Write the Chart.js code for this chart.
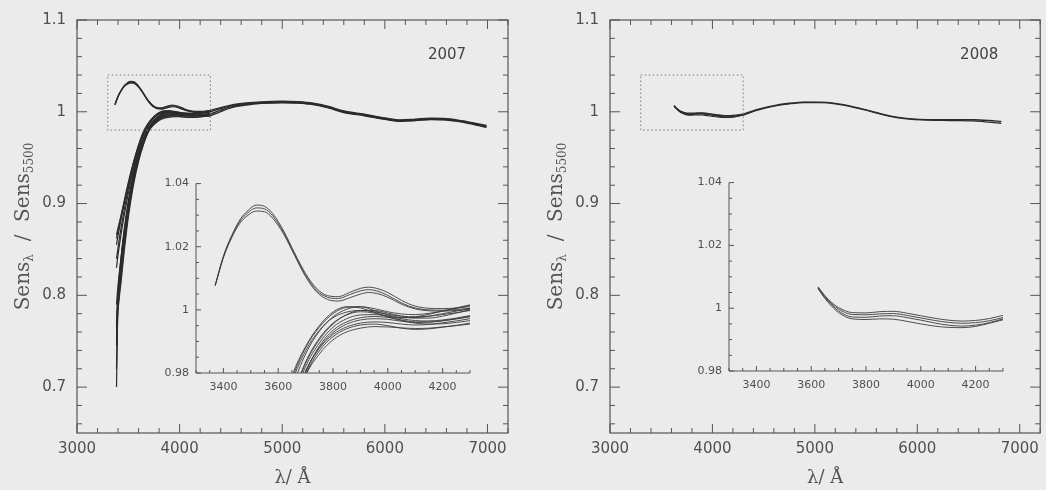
<!DOCTYPE html>
<html>
<head>
<meta charset="utf-8">
<script src="https://cdn.jsdelivr.net/npm/chart.js@4.4.1/dist/chart.umd.min.js"></script>
<style>
  body { margin: 0; background: #ebebeb; }
  #wrap { position: relative; width: 1046px; height: 490px; background: #ebebeb; overflow: hidden; }
  canvas { position: absolute; }
</style>
</head>
<body>
<div id="wrap">
  <canvas id="main07" width="523" height="490" style="left:0px;top:0px"></canvas>
  <canvas id="main08" width="523" height="490" style="left:523px;top:0px"></canvas>
  <canvas id="inset07" width="345" height="230" style="left:141px;top:170px"></canvas>
  <canvas id="inset08" width="345" height="230" style="left:674px;top:169px"></canvas>
</div>
<script>
// tick labels
var xTicksMain = [3000, 4000, 5000, 6000, 7000];
var yTicksMain = [0.7, 0.8, 0.9, 1, 1.1];
var xTicksInset = [3400, 3600, 3800, 4000, 4200];
var yTicksInset = [0.98, 1, 1.02, 1.04];

// 2007 - curves with the blue bump
var waveA = [3370, 3400, 3430, 3460, 3490, 3520, 3550, 3580, 3620, 3660, 3700, 3740, 3780, 3820, 3860, 3900, 3930, 3960, 4000, 4050, 4100, 4150, 4200, 4250, 4300];
var a1 = [1.0078, 1.0170, 1.0235, 1.0285, 1.0315, 1.0332, 1.0328, 1.0305, 1.0250, 1.0180, 1.0115, 1.0068, 1.0045, 1.0042, 1.0055, 1.0068, 1.0072, 1.0068, 1.0055, 1.0030, 1.0012, 1.0005, 1.0004, 1.0006, 1.0010];
var a2 = [1.0078, 1.0168, 1.0232, 1.0280, 1.0308, 1.0323, 1.0320, 1.0298, 1.0245, 1.0176, 1.0110, 1.0062, 1.0040, 1.0036, 1.0048, 1.0060, 1.0064, 1.0060, 1.0046, 1.0022, 1.0006, 1.0000, 0.9999, 1.0001, 1.0005];
var a3 = [1.0076, 1.0165, 1.0228, 1.0274, 1.0300, 1.0313, 1.0311, 1.0290, 1.0240, 1.0172, 1.0105, 1.0057, 1.0033, 1.0028, 1.0038, 1.0050, 1.0055, 1.0052, 1.0040, 1.0018, 1.0003, 0.9997, 0.9996, 0.9998, 1.0002];

// 2007 - curves that drop in the UV
var waveB = [3385, 3395, 3410, 3430, 3460, 3500, 3550, 3600, 3650, 3700, 3750, 3800, 3850, 3900, 3950, 4000, 4050, 4100, 4150, 4200, 4250, 4300];
var b1 = [0.700, 0.770, 0.795, 0.815, 0.848, 0.885, 0.920, 0.946, 0.965, 0.9790, 0.9860, 0.9905, 0.9930, 0.9942, 0.9947, 0.9946, 0.9943, 0.9941, 0.9942, 0.9946, 0.9950, 0.9955];
var b2 = [0.745, 0.785, 0.810, 0.832, 0.862, 0.895, 0.927, 0.951, 0.968, 0.9805, 0.9880, 0.9928, 0.9955, 0.9968, 0.9972, 0.9970, 0.9964, 0.9960, 0.9961, 0.9965, 0.9971, 0.9978];
var b3 = [0.750, 0.782, 0.805, 0.828, 0.858, 0.892, 0.925, 0.950, 0.967, 0.9795, 0.9870, 0.9915, 0.9940, 0.9952, 0.9955, 0.9950, 0.9942, 0.9938, 0.9940, 0.9945, 0.9951, 0.9958];
var b4 = [0.765, 0.792, 0.815, 0.838, 0.868, 0.900, 0.931, 0.954, 0.970, 0.9820, 0.9895, 0.9945, 0.9972, 0.9984, 0.9985, 0.9980, 0.9972, 0.9966, 0.9965, 0.9968, 0.9974, 0.9982];
var b5 = [0.770, 0.795, 0.818, 0.842, 0.872, 0.903, 0.933, 0.955, 0.971, 0.9830, 0.9905, 0.9955, 0.9985, 0.9998, 0.9998, 0.9990, 0.9980, 0.9974, 0.9974, 0.9980, 0.9990, 1.0000];
var b6 = [0.830, 0.840, 0.852, 0.867, 0.887, 0.911, 0.937, 0.957, 0.972, 0.9835, 0.9910, 0.9958, 0.9984, 0.9994, 0.9990, 0.9978, 0.9966, 0.9958, 0.9955, 0.9956, 0.9960, 0.9966];
var b7 = [0.840, 0.848, 0.860, 0.874, 0.893, 0.916, 0.940, 0.960, 0.975, 0.9860, 0.9932, 0.9978, 1.0002, 1.0010, 1.0004, 0.9994, 0.9987, 0.9985, 0.9989, 0.9996, 1.0005, 1.0014];
var b8 = [0.855, 0.862, 0.871, 0.883, 0.900, 0.921, 0.944, 0.963, 0.978, 0.9880, 0.9945, 0.9988, 1.0008, 1.0010, 0.9998, 0.9984, 0.9976, 0.9975, 0.9980, 0.9988, 0.9996, 1.0004];
var b9 = [0.862, 0.868, 0.876, 0.887, 0.903, 0.923, 0.945, 0.964, 0.979, 0.9884, 0.9950, 0.9993, 1.0010, 1.0006, 0.9992, 0.9980, 0.9975, 0.9978, 0.9986, 0.9996, 1.0006, 1.0016];
var b10 = [0.866, 0.871, 0.878, 0.887, 0.901, 0.920, 0.942, 0.962, 0.977, 0.9870, 0.9935, 0.9975, 0.9993, 0.9998, 0.9994, 0.9986, 0.9980, 0.9978, 0.9980, 0.9985, 0.9991, 0.9998];
var b11 = [0.790, 0.805, 0.822, 0.842, 0.869, 0.899, 0.929, 0.952, 0.968, 0.9805, 0.9878, 0.9922, 0.9946, 0.9958, 0.9962, 0.9960, 0.9955, 0.9952, 0.9954, 0.9959, 0.9965, 0.9972];
var b12 = [0.720, 0.775, 0.800, 0.822, 0.853, 0.889, 0.923, 0.948, 0.966, 0.9800, 0.9885, 0.9935, 0.9962, 0.9975, 0.9979, 0.9976, 0.9968, 0.9962, 0.9962, 0.9966, 0.9972, 0.9980];

// 2007 - red part, where all curves run together
var tailWave07 = [4300, 4400, 4500, 4650, 4800, 5000, 5150, 5300, 5450, 5600, 5800, 6000, 6150, 6300, 6450, 6600, 6800, 6990];
var t1 = [1.0016, 1.0045, 1.0072, 1.0095, 1.0108, 1.0114, 1.0109, 1.0093, 1.0058, 1.0008, 0.9973, 0.9934, 0.9911, 0.9920, 0.9929, 0.9925, 0.9893, 0.9850];
var t2 = [1.0000, 1.0035, 1.0065, 1.0089, 1.0103, 1.0109, 1.0104, 1.0088, 1.0052, 1.0002, 0.9967, 0.9928, 0.9905, 0.9914, 0.9923, 0.9919, 0.9887, 0.9842];
var t3 = [0.9975, 1.0018, 1.0054, 1.0082, 1.0097, 1.0104, 1.0099, 1.0083, 1.0047, 0.9997, 0.9962, 0.9923, 0.9900, 0.9909, 0.9918, 0.9914, 0.9882, 0.9835];
var t4 = [0.9955, 1.0002, 1.0043, 1.0074, 1.0091, 1.0099, 1.0094, 1.0078, 1.0042, 0.9992, 0.9957, 0.9918, 0.9896, 0.9905, 0.9914, 0.9910, 0.9878, 0.9830];

// 2008
var waveC = [3625, 3650, 3675, 3700, 3750, 3800, 3850, 3900, 3950, 4000, 4050, 4100, 4150, 4200, 4250, 4300];
var c1 = [1.0068, 1.0040, 1.0018, 1.0002, 0.9986, 0.9985, 0.9989, 0.9990, 0.9984, 0.9976, 0.9968, 0.9962, 0.9959, 0.9961, 0.9967, 0.9977];
var c2 = [1.0066, 1.0037, 1.0014, 0.9997, 0.9980, 0.9979, 0.9982, 0.9983, 0.9977, 0.9969, 0.9961, 0.9955, 0.9952, 0.9954, 0.9960, 0.9970];
var c3 = [1.0064, 1.0034, 1.0010, 0.9991, 0.9972, 0.9971, 0.9975, 0.9976, 0.9970, 0.9962, 0.9953, 0.9946, 0.9943, 0.9946, 0.9954, 0.9966];
var c4 = [1.0062, 1.0031, 1.0006, 0.9986, 0.9966, 0.9964, 0.9966, 0.9965, 0.9958, 0.9950, 0.9943, 0.9939, 0.9938, 0.9942, 0.9952, 0.9963];
var tailWave08 = [4300, 4450, 4600, 4750, 4900, 5050, 5200, 5350, 5500, 5650, 5800, 5950, 6100, 6250, 6400, 6550, 6700, 6820];
var r1 = [0.9975, 1.0028, 1.0068, 1.0093, 1.0106, 1.0105, 1.0092, 1.0062, 1.0022, 0.9977, 0.9942, 0.9922, 0.9914, 0.9913, 0.9914, 0.9913, 0.9905, 0.9895];
var r2 = [0.9962, 1.0020, 1.0061, 1.0087, 1.0101, 1.0100, 1.0087, 1.0057, 1.0017, 0.9972, 0.9937, 0.9917, 0.9909, 0.9906, 0.9904, 0.9900, 0.9887, 0.9875];

var groupA = [a1, a2, a3];
var groupB = [b1, b2, b3, b4, b5, b6, b7, b8, b9, b10, b11, b12];
var tails07 = [t1, t2, t3, t4];
var group08 = [c1, c2, c3, c4];
var tails08 = [r1, r2];

var tickFont = { family: 'DejaVu Sans', size: 15 };
var insetFont = { family: 'DejaVu Sans', size: 11 };
var inkColor = '#505050';

function pts(xs, ys) {
  return xs.map(function (x, i) { return { x: x, y: ys[i] }; });
}

function lines(xs, list, color, width) {
  return list.map(function (ys) {
    return { data: pts(xs, ys), borderColor: color, borderWidth: width, pointRadius: 0, fill: false, cubicInterpolationMode: 'monotone' };
  });
}

// plain numbers, no thousands separator
function fmt(v) { return String(+Number(v).toFixed(3)); }

// frame, inward ticks on 4 sides, dotted zoom box, axis titles
function framePlugin(year) {
  return {
    id: 'frame' + year,
    afterDatasetsDraw: function (chart) {
      var ctx = chart.ctx, a = chart.chartArea, xs = chart.scales.x, ys = chart.scales.y;
      ctx.save();
      ctx.strokeStyle = '#555';
      ctx.lineWidth = 1.2;
      ctx.strokeRect(a.left, a.top, a.right - a.left, a.bottom - a.top);
      ctx.lineWidth = 1;
      ctx.beginPath();
      for (var v = 3000; v <= 7200; v += 200) {
        var px = xs.getPixelForValue(v);
        var len = v % 1000 === 0 ? 9 : 5;
        ctx.moveTo(px, a.bottom); ctx.lineTo(px, a.bottom - len);
        ctx.moveTo(px, a.top); ctx.lineTo(px, a.top + len);
      }
      for (var k = 0; k <= 22; k++) {
        var yv = 0.66 + k * 0.02;
        var py = ys.getPixelForValue(yv);
        var major = Math.abs(yv * 10 - Math.round(yv * 10)) < 1e-6;
        var l2 = major ? 10 : 5;
        ctx.moveTo(a.left, py); ctx.lineTo(a.left + l2, py);
        ctx.moveTo(a.right, py); ctx.lineTo(a.right - l2, py);
      }
      ctx.stroke();

      // dotted box showing the inset range
      ctx.strokeStyle = '#7a7a7a';
      ctx.setLineDash([1.5, 2.5]);
      var bx = xs.getPixelForValue(3300), bx2 = xs.getPixelForValue(4300);
      var by = ys.getPixelForValue(1.04), by2 = ys.getPixelForValue(0.98);
      ctx.strokeRect(bx, by, bx2 - bx, by2 - by);
      ctx.setLineDash([]);

      ctx.fillStyle = '#444';
      ctx.font = '15px "DejaVu Sans"';
      ctx.textAlign = 'center';
      ctx.textBaseline = 'middle';
      ctx.fillText(year, a.right - 61, 55);

      ctx.fillStyle = '#555';
      ctx.font = '18px "DejaVu Serif"';
      ctx.textBaseline = 'alphabetic';
      ctx.fillText('\u03bb/ \u00c5', (a.left + a.right) / 2, 483);

      // y title with subscripts
      var parts = [['Sens', 0], ['\u03bb', 1], ['  /  ', 0], ['Sens', 0], ['5500', 1]];
      var big = '20px "DejaVu Serif"', small = '12px "DejaVu Serif"';
      var total = 0;
      parts.forEach(function (p) { ctx.font = p[1] ? small : big; total += ctx.measureText(p[0]).width; });
      ctx.translate(a.left - 55, (a.top + a.bottom) / 2);
      ctx.rotate(-Math.PI / 2);
      ctx.textAlign = 'left';
      var cx = -total / 2;
      parts.forEach(function (p) {
        ctx.font = p[1] ? small : big;
        ctx.fillText(p[0], cx, p[1] ? 11 : 7);
        cx += ctx.measureText(p[0]).width;
      });
      ctx.restore();
    }
  };
}

var insetAxes = {
  id: 'insetAxes',
  afterDatasetsDraw: function (chart) {
    var ctx = chart.ctx, a = chart.chartArea, xs = chart.scales.x, ys = chart.scales.y;
    ctx.save();
    ctx.strokeStyle = '#555';
    ctx.lineWidth = 1;
    ctx.beginPath();
    ctx.moveTo(a.left, a.top); ctx.lineTo(a.left, a.bottom); ctx.lineTo(a.right, a.bottom);
    for (var v = 3300; v <= 4300; v += 50) {
      var px = xs.getPixelForValue(v);
      var len = v % 200 === 0 ? 5 : 3;
      ctx.moveTo(px, a.bottom); ctx.lineTo(px, a.bottom - len);
    }
    for (var k = 0; k <= 12; k++) {
      var yv = 0.98 + k * 0.005;
      var py = ys.getPixelForValue(yv);
      var l2 = k % 4 === 0 ? 5 : 3;
      ctx.moveTo(a.left, py); ctx.lineTo(a.left + l2, py);
    }
    ctx.stroke();
    ctx.restore();
  }
};

function mainChart(id, datasets, yWidth, padRight, year) {
  return new Chart(document.getElementById(id), {
    type: 'line',
    data: { datasets: datasets },
    options: {
      responsive: false,
      animation: false,
      devicePixelRatio: 1,
      layout: { padding: { left: 0, right: padRight, top: 13, bottom: 0 } },
      plugins: { legend: { display: false }, tooltip: { enabled: false } },
      scales: {
        x: {
          type: 'linear', min: 3000, max: 7200,
          grid: { display: false, drawTicks: false }, border: { display: false },
          ticks: { padding: 7, font: tickFont, color: inkColor, maxRotation: 0, autoSkip: false, callback: fmt },
          afterBuildTicks: function (s) { s.ticks = xTicksMain.map(function (v) { return { value: v }; }); },
          afterFit: function (s) { s.height = 57; }
        },
        y: {
          type: 'linear', min: 0.65, max: 1.1,
          grid: { display: false, drawTicks: false }, border: { display: false },
          ticks: { padding: 11, font: tickFont, color: inkColor, callback: fmt, autoSkip: false },
          afterBuildTicks: function (s) { s.ticks = yTicksMain.map(function (v) { return { value: v }; }); },
          afterFit: function (s) { s.width = yWidth; }
        }
      }
    },
    plugins: [framePlugin(year)]
  });
}

function insetChart(id, datasets, xAxisHeight) {
  return new Chart(document.getElementById(id), {
    type: 'line',
    data: { datasets: datasets },
    options: {
      responsive: false,
      animation: false,
      devicePixelRatio: 1,
      layout: { padding: { left: 0, right: 16, top: 13, bottom: 0 } },
      plugins: { legend: { display: false }, tooltip: { enabled: false } },
      scales: {
        x: {
          type: 'linear', min: 3300, max: 4300,
          grid: { display: false, drawTicks: false }, border: { display: false },
          ticks: { padding: 8, font: insetFont, color: inkColor, maxRotation: 0, autoSkip: false, callback: fmt },
          afterBuildTicks: function (s) { s.ticks = xTicksInset.map(function (v) { return { value: v }; }); },
          afterFit: function (s) { s.height = xAxisHeight; }
        },
        y: {
          type: 'linear', min: 0.98, max: 1.04,
          grid: { display: false, drawTicks: false }, border: { display: false },
          ticks: { padding: 7, font: insetFont, color: inkColor, callback: fmt, autoSkip: false },
          afterBuildTicks: function (s) { s.ticks = yTicksInset.map(function (v) { return { value: v }; }); },
          afterFit: function (s) { s.width = 55; }
        }
      }
    },
    plugins: [insetAxes]
  });
}

var lineDark = '#2b2b2b';
var lineInset = '#3c3c3c';

mainChart('main07',
  lines(waveA, groupA, lineDark, 1.2)
    .concat(lines(waveB, groupB, lineDark, 1.2))
    .concat(lines(tailWave07, tails07, lineDark, 1.4)),
  77, 15, '2007');

mainChart('main08',
  lines(waveC, group08, lineDark, 1.1)
    .concat(lines(tailWave08, tails08, lineDark, 1.3)),
  87, 4, '2008');

insetChart('inset07',
  lines(waveA, groupA, lineInset, 0.9).concat(lines(waveB, groupB, lineInset, 0.9)), 27);

insetChart('inset08', lines(waveC, group08, lineInset, 0.9), 28);
</script>
</body>
</html>
